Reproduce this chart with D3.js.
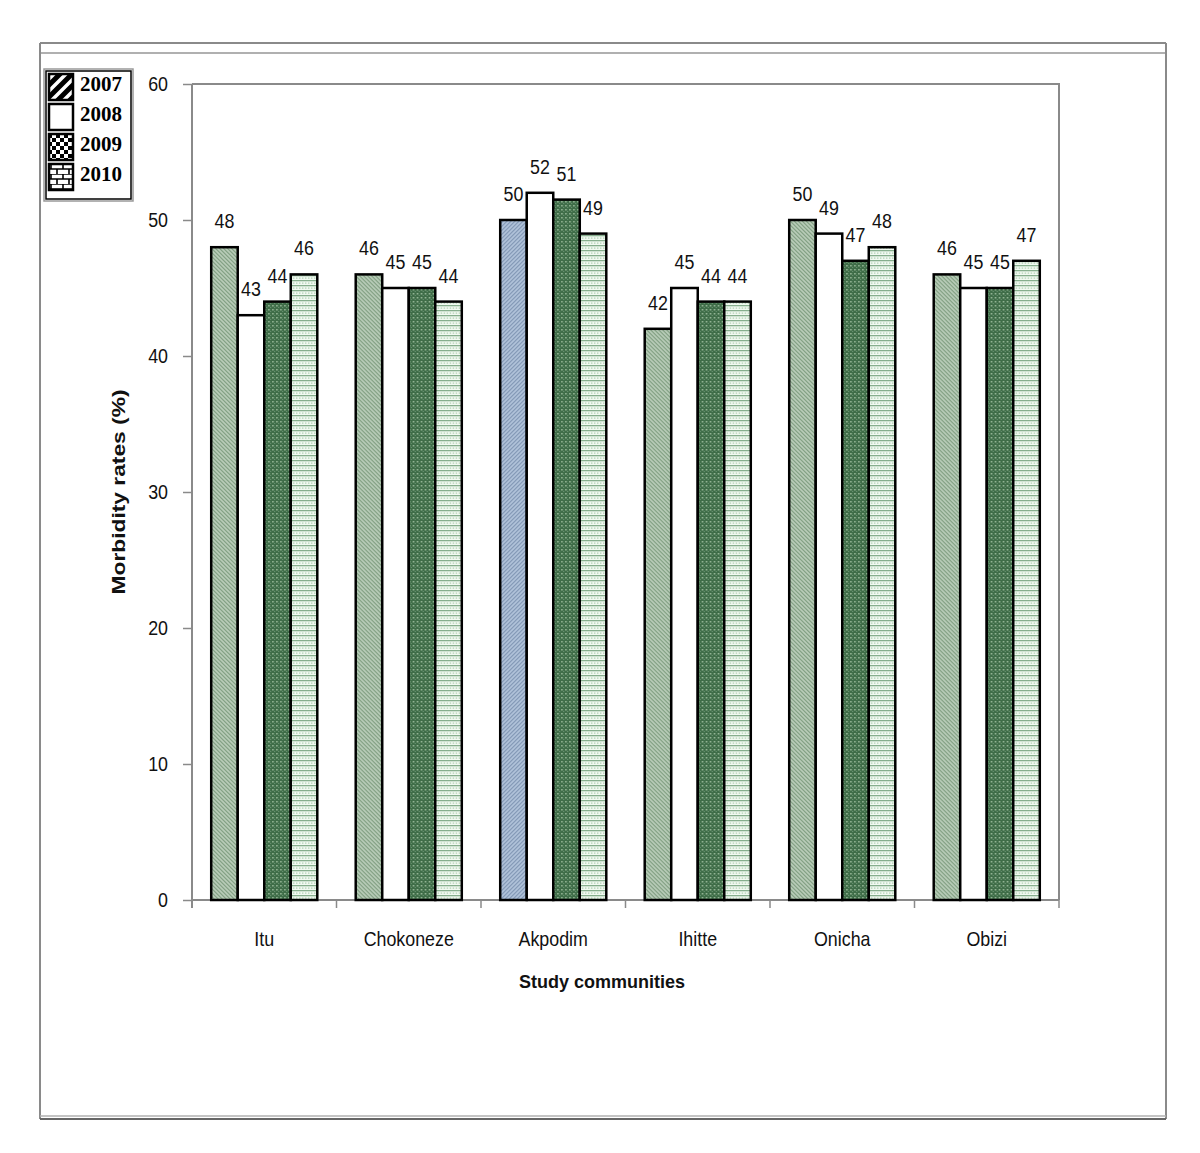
<!DOCTYPE html>
<html><head><meta charset="utf-8">
<script src="https://cdn.jsdelivr.net/npm/d3@7"></script>
<style>
html,body{margin:0;padding:0;background:#fff;}
svg{display:block;}
</style></head>
<body>
<script>
// ---- data ----
const communities = ["Itu","Chokoneze","Akpodim","Ihitte","Onicha","Obizi"];
const years = ["2007","2008","2009","2010"];
const v2007 = [48, 46, 50, 42, 50, 46];
const v2008 = [43, 45, 52, 45, 49, 45];
const v2009 = [44, 45, 51.5, 44, 47, 45];
const v2010 = [46, 44, 49, 44, 48, 47];
const yTicks = [0,10,20,30,40,50,60];
const yTitle = "Morbidity rates (%)";
const xTitle = "Study communities";

const seriesVals = [v2007, v2008, v2009, v2010];

const W = 1200, H = 1153;
const svg = d3.select("body").append("svg").attr("width", W).attr("height", H);
const defs = svg.append("defs");

// patterns for bars
function pat(id, w, h, bg, draw){
  const p = defs.append("pattern").attr("id", id).attr("patternUnits","userSpaceOnUse")
    .attr("width", w).attr("height", h);
  p.append("rect").attr("width", w).attr("height", h).attr("fill", bg);
  draw(p);
}
pat("p2007", 4, 4, "#bccfbc", p => {
  p.append("path").attr("d","M0,0 L4,4 M-1,3 L1,5 M3,-1 L5,1").attr("stroke","#789879").attr("stroke-width",1.1);
});
pat("p2007b", 4, 4, "#b3c5dc", p => {
  p.append("path").attr("d","M0,4 L4,0 M-1,1 L1,-1 M3,5 L5,3").attr("stroke","#7b91b0").attr("stroke-width",1.1);
});
pat("p2008", 4, 4, "#ffffff", p => {});
pat("p2009", 4, 4, "#3f6d48", p => {
  p.append("rect").attr("x",1).attr("y",1).attr("width",1.5).attr("height",1.5).attr("fill","#9fbf9f");
  p.append("rect").attr("x",3).attr("y",3).attr("width",1).attr("height",1).attr("fill","#6f9777");
});
pat("p2010", 6, 5, "#f2faf2", p => {
  p.append("rect").attr("x",0).attr("y",0).attr("width",6).attr("height",1.3).attr("fill","#86ae8d");
  p.append("rect").attr("x",1).attr("y",2.5).attr("width",1.2).attr("height",1.2).attr("fill","#9cc2a0");
  p.append("rect").attr("x",4).attr("y",2.5).attr("width",1.2).attr("height",1.2).attr("fill","#9cc2a0");
});

// legend patterns (black & white)
pat("l2007", 12, 12, "#fff", p => {
  p.append("path").attr("d","M-3,15 L15,-3 M-3,3 L3,-3 M9,15 L15,9").attr("stroke","#000").attr("stroke-width",5);
});
pat("l2008", 8, 8, "#fff", p => {});
pat("l2009", 8, 8, "#fff", p => {
  p.append("rect").attr("x",0).attr("y",0).attr("width",4).attr("height",4).attr("fill","#000");
  p.append("rect").attr("x",4).attr("y",4).attr("width",4).attr("height",4).attr("fill","#000");
});
pat("l2010", 12, 10, "#fff", p => {
  p.append("path").attr("d","M0,0 H12 M0,5 H12 M3,0 V5 M9,5 V10").attr("stroke","#000").attr("stroke-width",1.6);
});

const barPat = ["url(#p2007)","url(#p2008)","url(#p2009)","url(#p2010)"];
const legPat = ["url(#l2007)","url(#l2008)","url(#l2009)","url(#l2010)"];

// outer frame
const frame = svg.append("g").attr("fill","none").attr("stroke","#8a8a8a");
frame.append("line").attr("x1",40).attr("x2",1166).attr("y1",43).attr("y2",43).attr("stroke-width",2);
frame.append("line").attr("x1",40).attr("x2",1166).attr("y1",53).attr("y2",53).attr("stroke","#b0b0b0").attr("stroke-width",2);
frame.append("line").attr("x1",40).attr("x2",40).attr("y1",43).attr("y2",1119).attr("stroke-width",2);
frame.append("line").attr("x1",1166).attr("x2",1166).attr("y1",43).attr("y2",1119).attr("stroke-width",2);
frame.append("line").attr("x1",40).attr("x2",1166).attr("y1",1116).attr("y2",1116).attr("stroke","#b0b0b0").attr("stroke-width",1.5);
frame.append("line").attr("x1",40).attr("x2",1166).attr("y1",1119).attr("y2",1119).attr("stroke","#666").attr("stroke-width",2);

// scales
const pL = 192, pR = 1059, pT = 84, pB = 900;
const y = d3.scaleLinear().domain([0,60]).range([pB, pT]);
const x0 = d3.scaleBand().domain(communities).range([pL, pR]).paddingInner(0.266).paddingOuter(0.133);
const x1 = d3.scaleBand().domain(years).range([0, x0.bandwidth()]);

const font = "'Liberation Sans', Arial, sans-serif";
const fs = 21, sx = 0.85;

// plot frame
const g = svg.append("g");
g.append("path").attr("d",`M${pL},${pT} H${pR} V${pB}`).attr("fill","none").attr("stroke","#8a8a8a").attr("stroke-width",2);

// y axis
const yAxis = g.append("g").attr("transform",`translate(${pL},0)`)
  .call(d3.axisLeft(y).tickValues(yTicks).tickSize(9).tickPadding(15).tickFormat(d3.format("d")));
yAxis.select(".domain").attr("stroke","#8a8a8a").attr("stroke-width",2).attr("d",`M0,${pT}V${pB+8}`);
yAxis.selectAll(".tick line").attr("stroke","#8a8a8a").attr("stroke-width",1.5);
yAxis.selectAll(".tick text").attr("font-family",font).attr("font-size",fs).attr("fill","#111")
  .attr("x", -24 / sx).attr("transform", `scale(${sx},1)`);

// x axis with boundary ticks
const xb = g.append("g");
xb.append("line").attr("x1",pL).attr("x2",pR).attr("y1",pB).attr("y2",pB).attr("stroke","#8a8a8a").attr("stroke-width",2);
xb.selectAll("line.b").data(d3.range(communities.length+1)).join("line").attr("class","b")
  .attr("x1",i => pL + i*x0.step()).attr("x2",i => pL + i*x0.step())
  .attr("y1",pB).attr("y2",pB+8).attr("stroke","#8a8a8a").attr("stroke-width",1.5);
xb.selectAll("text").data(communities).join("text")
  .attr("transform",d => `translate(${x0(d) + x0.bandwidth()/2},946) scale(${sx},1)`)
  .attr("text-anchor","middle").attr("font-family",font).attr("font-size",fs).attr("fill","#111")
  .text(d => d);

// bars
const groups = g.selectAll("g.grp").data(communities).join("g").attr("class","grp")
  .attr("transform",d => `translate(${x0(d)},0)`);
groups.each(function(c, ci){
  const gg = d3.select(this);
  const data = years.map((yr, si) => ({yr, si, v: seriesVals[si][ci]}));
  gg.selectAll("rect").data(data).join("rect")
    .attr("x", d => x1(d.yr)).attr("width", x1.bandwidth())
    .attr("y", d => y(d.v)).attr("height", d => y(0) - y(d.v))
    .attr("fill", d => (ci === 2 && d.si === 0) ? "url(#p2007b)" : barPat[d.si])
    .attr("stroke","#000").attr("stroke-width",2.5);
  gg.selectAll("text").data(data).join("text")
    .attr("transform", d => `translate(${x1(d.yr) + x1.bandwidth()/2},${y(d.v) - 19}) scale(${sx},1)`)
    .attr("text-anchor","middle").attr("font-family",font).attr("font-size",fs).attr("fill","#111")
    .text(d => Math.trunc(d.v));
});

// axis titles
svg.append("text").attr("x",602).attr("y",988).attr("text-anchor","middle")
  .attr("font-family",font).attr("font-weight","bold").attr("font-size",18).attr("fill","#111").text(xTitle);
svg.append("text").attr("transform",`translate(125,${(pT+pB)/2}) rotate(-90)`).attr("text-anchor","middle")
  .attr("font-family",font).attr("font-weight","bold").attr("font-size",19).attr("fill","#111")
  .attr("textLength",205).attr("lengthAdjust","spacingAndGlyphs").text(yTitle);

// legend
const lg = svg.append("g");
lg.append("rect").attr("x",44).attr("y",69).attr("width",89).attr("height",132).attr("fill","#fff").attr("stroke","#999").attr("stroke-width",1.5);
lg.append("rect").attr("x",46).attr("y",71).attr("width",85).attr("height",128).attr("fill","none").attr("stroke","#000").attr("stroke-width",1.5);
const lrow = lg.selectAll("g").data(years).join("g").attr("transform",(d,i) => `translate(0,${74 + i*30})`);
lrow.append("rect").attr("x",49).attr("y",0).attr("width",24).attr("height",26)
  .attr("fill",(d,i) => legPat[i]).attr("stroke","#000").attr("stroke-width",2.5);
lrow.append("text").attr("x",80).attr("y",17).attr("font-family","'Liberation Serif', 'Times New Roman', serif")
  .attr("font-weight","bold").attr("font-size",21).attr("fill","#000").text(d => d);
</script>
</body></html>
